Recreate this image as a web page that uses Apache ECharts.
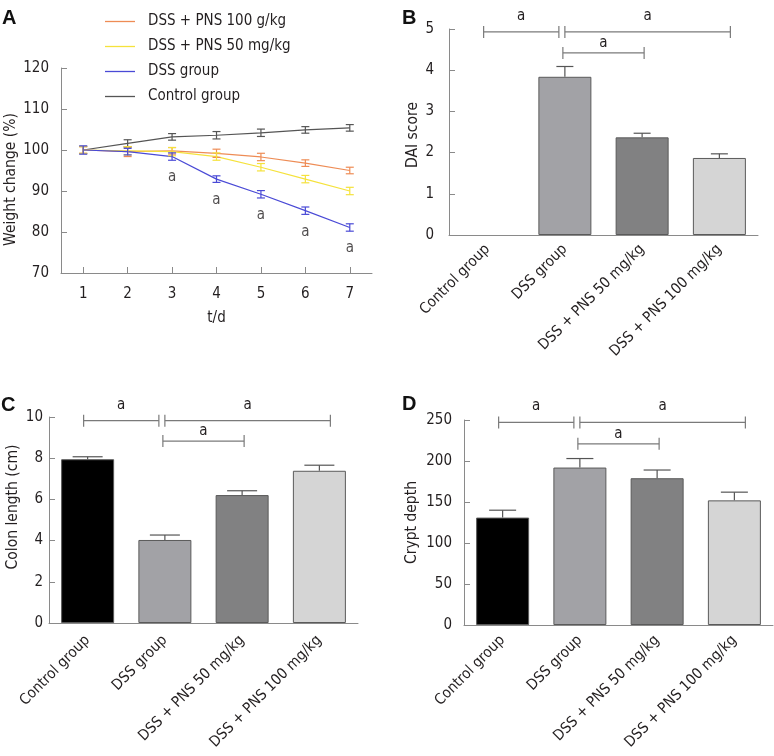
<!DOCTYPE html>
<html><head><meta charset="utf-8">
<script src="https://cdn.jsdelivr.net/npm/echarts@6/dist/echarts.min.js"></script>
<style>html,body{margin:0;padding:0;background:#fff}#c{width:774px;height:756px}</style>
</head><body><div id="c"></div>
<script>
// ---------- DATA ----------
const days = ['1','2','3','4','5','6','7'];
const controlW    = [100, 101.6, 103.2, 103.6, 104.2, 104.9, 105.4];
const controlWErr = [0.9, 0.9, 0.8, 0.9, 0.9, 0.8, 0.8];
const dssW        = [100, 99.6, 98.4, 92.9, 89.2, 85.2, 81.1];
const dssWErr     = [1.0, 0.8, 0.9, 0.8, 0.9, 0.9, 0.9];
const pns50W      = [100, 99.8, 99.6, 98.4, 95.8, 92.9, 90.0];
const pns50WErr   = [0.8, 1.0, 1.0, 0.9, 0.9, 0.9, 0.9];
const pns100W     = [100, 99.6, 99.8, 99.2, 98.3, 96.8, 95.0];
const pns100WErr  = [0.8, 1.2, 0.8, 1.0, 0.9, 0.8, 0.8];
const dssSigDays  = [null, null, 'a', 'a', 'a', 'a', 'a'];

const groups = ['Control group', 'DSS group', 'DSS + PNS 50 mg/kg', 'DSS + PNS 100 mg/kg'];
const daiScore    = [0, 3.84, 2.37, 1.87];
const daiErr      = [0, 0.25, 0.10, 0.10];
const colonLength = [7.95, 4.03, 6.21, 7.39];
const colonErr    = [0.12, 0.24, 0.21, 0.27];
const cryptDepth  = [131, 192, 179, 152];
const cryptErr    = [9, 11, 10, 10];

// significance brackets: [from group index, to group index, height]
const bracketsB = [[0, 1, 4.93], [1, 3, 4.93], [1, 2, 4.42]];
const bracketsC = [[0, 1, 9.82], [1, 3, 9.82], [1, 2, 8.83]];
const bracketsD = [[0, 1, 247], [1, 3, 247], [1, 2, 221]];
const bracketText = ['a', 'a', 'a'];

// ---------- STYLE ----------
const FONT = '"DejaVu Sans Condensed", "DejaVu Sans", sans-serif';
const TXT = '#231f20';
const AX = '#8a8a8a';
const barColors = ['#000000', '#a2a2a6', '#818182', '#d5d5d5'];
const lineColors = {control: '#555555', dss: '#4a4ad6', p50: '#f5e23c', p100: '#ee8c55'};
// bracket pixel tweaks: [dx start, dx end, label lift]
const bracketStyle = [[-4, -6, 16], [0, 11, 16], [-2, 2, 10]];

function errSeries(vals, errs, xi, yi, color, capW, upperOnly) {
  return {
    type: 'custom', xAxisIndex: xi, yAxisIndex: yi, silent: true, z: 5,
    encode: {x: 0, y: [1, 2]},
    data: vals.map((v, i) => [i, upperOnly ? v : v - errs[i], v + errs[i]]),
    renderItem(params, api) {
      const x = api.value(0);
      const lo = api.coord([x, api.value(1)]);
      const hi = api.coord([x, api.value(2)]);
      const st = {stroke: color, lineWidth: 1.2};
      const h = capW / 2;
      if (api.value(2) === api.value(1)) return {type: 'group', children: []};
      const ch = [
        {type: 'line', shape: {x1: hi[0], y1: hi[1], x2: lo[0], y2: lo[1]}, style: st},
        {type: 'line', shape: {x1: hi[0] - h, y1: hi[1], x2: hi[0] + h, y2: hi[1]}, style: st}
      ];
      if (!upperOnly) ch.push({type: 'line', shape: {x1: lo[0] - h, y1: lo[1], x2: lo[0] + h, y2: lo[1]}, style: st});
      return {type: 'group', children: ch};
    }
  };
}

function bracketSeries(data, xi, yi) {
  return {
    type: 'custom', xAxisIndex: xi, yAxisIndex: yi, silent: true, z: 6,
    encode: {x: [0, 1], y: 2},
    data: data,
    renderItem(params, api) {
      const i = params.dataIndex;
      const p1 = api.coord([api.value(0), api.value(2)]);
      const p2 = api.coord([api.value(1), api.value(2)]);
      const o = bracketStyle[i];
      const x1 = p1[0] + o[0], x2 = p2[0] + o[1], y = p1[1];
      const st = {stroke: '#7a7a7a', lineWidth: 1.2};
      return {type: 'group', children: [
        {type: 'line', shape: {x1: x1, y1: y, x2: x2, y2: y}, style: st},
        {type: 'line', shape: {x1: x1, y1: y - 6, x2: x1, y2: y + 6}, style: st},
        {type: 'line', shape: {x1: x2, y1: y - 6, x2: x2, y2: y + 6}, style: st},
        {type: 'text', style: {text: bracketText[i], x: (x1 + x2) / 2, y: y - o[2],
          align: 'center', verticalAlign: 'middle', font: '15px ' + FONT, fill: TXT}}
      ]};
    }
  };
}

function barSeries(vals, xi, yi) {
  return {
    type: 'bar', xAxisIndex: xi, yAxisIndex: yi, barWidth: 53, z: 2, silent: true,
    data: vals.map((v, i) => ({value: v, itemStyle: {color: barColors[i], borderColor: '#5a5a5a', borderWidth: v === 0 ? 0 : 1}}))
  };
}

function yAx(gi, min, max, step, name, nameGap, margin, namePad) {
  return {
    type: 'value', gridIndex: gi, min: min, max: max, interval: step,
    axisLine: {show: true, lineStyle: {color: AX, width: 1}},
    axisTick: {show: true, inside: true, length: 6, lineStyle: {color: AX}},
    splitLine: {show: false},
    axisLabel: {fontSize: 15, fontFamily: FONT, color: TXT, margin: margin},
    name: name, nameLocation: 'middle', nameGap: nameGap,
    nameTextStyle: {fontSize: 15.5, fontFamily: FONT, color: TXT, padding: namePad}
  };
}

function xBarAx(gi, margin) {
  return {
    type: 'category', gridIndex: gi, data: groups,
    axisLine: {lineStyle: {color: AX, width: 1}},
    axisTick: {show: false},
    axisLabel: {rotate: 45, interval: 0, margin: margin, fontSize: 15, fontFamily: FONT, color: TXT}
  };
}

const chart = echarts.init(document.getElementById('c'), null, {renderer: 'canvas'});
const option = {
  animation: false,
  backgroundColor: '#fff',
  textStyle: {fontFamily: FONT},
  grid: [
    {left: 61, top: 68, width: 311, height: 205},
    {left: 449, top: 29, width: 309, height: 206},
    {left: 49, top: 417, width: 309, height: 206},
    {left: 464, top: 420, width: 309, height: 205}
  ],
  legend: {
    orient: 'vertical', left: 100, top: 9, itemWidth: 30, itemHeight: 1.3, itemGap: 10, icon: 'rect',
    data: ['DSS + PNS 100 g/kg', 'DSS + PNS 50 mg/kg', 'DSS group', 'Control group'],
    textStyle: {fontSize: 15, fontFamily: FONT, color: TXT, padding: [0, 0, 0, 8]}
  },
  xAxis: [
    {type: 'category', gridIndex: 0, data: days,
      axisLine: {lineStyle: {color: AX, width: 1}},
      axisTick: {show: true, inside: true, alignWithLabel: true, length: 6, lineStyle: {color: AX}},
      axisLabel: {fontSize: 15, fontFamily: FONT, color: TXT, margin: 14},
      name: 't/d', nameLocation: 'middle', nameGap: 38,
      nameTextStyle: {fontSize: 15, fontFamily: FONT, color: TXT}},
    xBarAx(1, 12), xBarAx(2, 15), xBarAx(3, 13)
  ],
  yAxis: [
    yAx(0, 70, 120, 10, 'Weight change (%)', 40, 12, [0, 18, 0, 0]),
    yAx(1, 0, 5, 1, 'DAI score', 28, 15, [0, 6, 0, 0]),
    yAx(2, 0, 10, 2, 'Colon length (cm)', 28, 6, [0, 0, 0, 26]),
    yAx(3, 0, 250, 50, 'Crypt depth', 44, 12, [0, 0, 0, 0])
  ],
  graphic: [
    {type: 'text', left: 2, top: 8, style: {text: 'A', font: 'bold 20px "Liberation Sans", Arial, sans-serif', fill: '#111'}},
    {type: 'text', left: 402, top: 8, style: {text: 'B', font: 'bold 20px "Liberation Sans", Arial, sans-serif', fill: '#111'}},
    {type: 'text', left: 1, top: 395, style: {text: 'C', font: 'bold 20px "Liberation Sans", Arial, sans-serif', fill: '#111'}},
    {type: 'text', left: 402, top: 394, style: {text: 'D', font: 'bold 20px "Liberation Sans", Arial, sans-serif', fill: '#111'}}
  ],
  series: [
    {name: 'Control group', type: 'line', xAxisIndex: 0, yAxisIndex: 0, data: controlW, symbol: 'none',
      lineStyle: {color: lineColors.control, width: 1.2}, itemStyle: {color: lineColors.control}, z: 3},
    {name: 'DSS + PNS 100 g/kg', type: 'line', xAxisIndex: 0, yAxisIndex: 0, data: pns100W, symbol: 'none',
      lineStyle: {color: lineColors.p100, width: 1.2}, itemStyle: {color: lineColors.p100}, z: 3},
    {name: 'DSS + PNS 50 mg/kg', type: 'line', xAxisIndex: 0, yAxisIndex: 0, data: pns50W, symbol: 'none',
      lineStyle: {color: lineColors.p50, width: 1.2}, itemStyle: {color: lineColors.p50}, z: 3},
    {name: 'DSS group', type: 'line', xAxisIndex: 0, yAxisIndex: 0, data: dssW, symbol: 'none',
      lineStyle: {color: lineColors.dss, width: 1.2}, itemStyle: {color: lineColors.dss}, z: 4},
    errSeries(controlW, controlWErr, 0, 0, lineColors.control, 8, false),
    errSeries(pns100W, pns100WErr, 0, 0, lineColors.p100, 8, false),
    errSeries(pns50W, pns50WErr, 0, 0, lineColors.p50, 8, false),
    errSeries(dssW, dssWErr, 0, 0, lineColors.dss, 8, false),
    {type: 'scatter', xAxisIndex: 0, yAxisIndex: 0, silent: true, symbolSize: 1,
      itemStyle: {color: 'rgba(0,0,0,0)'},
      data: dssW.map((v, i) => dssSigDays[i] ? v : null),
      label: {show: true, position: 'bottom', distance: 13, fontSize: 15, fontFamily: FONT, color: TXT,
        formatter: p => dssSigDays[p.dataIndex] || ''}},

    barSeries(daiScore, 1, 1),
    errSeries(daiScore, daiErr, 1, 1, '#555', 17, true),
    bracketSeries(bracketsB, 1, 1),

    barSeries(colonLength, 2, 2),
    errSeries(colonLength, colonErr, 2, 2, '#555', 30, true),
    bracketSeries(bracketsC, 2, 2),

    barSeries(cryptDepth, 3, 3),
    errSeries(cryptDepth, cryptErr, 3, 3, '#555', 27, true),
    bracketSeries(bracketsD, 3, 3)
  ]
};
chart.setOption(option);
</script>
</body></html>
